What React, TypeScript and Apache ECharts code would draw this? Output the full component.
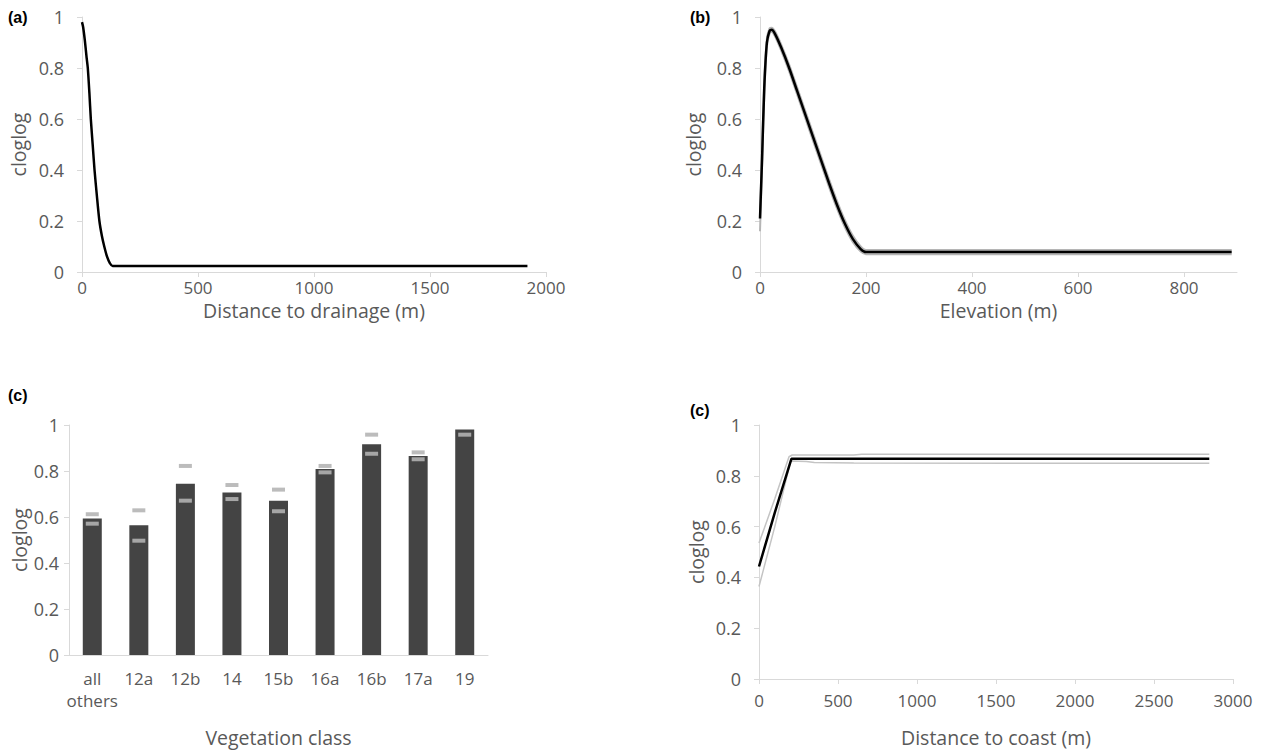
import React, { useEffect, useRef } from "react";
import * as echarts from "echarts";

// (a) Distance to drainage
const drainMean: [number, number][] = [
  [0, 0.98], [5, 0.96], [12, 0.91], [20, 0.84], [25, 0.8], [32, 0.7], [38, 0.6],
  [46, 0.5], [54, 0.4], [64, 0.3], [75, 0.2], [86, 0.14], [96, 0.1], [108, 0.06],
  [120, 0.035], [132, 0.024], [1920, 0.024],
];

// (b) Elevation
const elevMean: [number, number][] = [
  [0, 0.21], [4, 0.45], [8, 0.72], [13, 0.9], [18, 0.945], [22, 0.95], [28, 0.935],
  [40, 0.88], [55, 0.8], [70, 0.71], [85, 0.62], [100, 0.53], [115, 0.44], [130, 0.35],
  [145, 0.265], [160, 0.19], [175, 0.13], [190, 0.09], [200, 0.078], [890, 0.078],
];
const elevUpper: [number, number][] = [
  [0, 0.23], [4, 0.48], [8, 0.75], [13, 0.915], [18, 0.955], [22, 0.958], [28, 0.945],
  [40, 0.892], [55, 0.813], [70, 0.724], [85, 0.634], [100, 0.545], [115, 0.455], [130, 0.365],
  [145, 0.28], [160, 0.204], [175, 0.143], [190, 0.1], [200, 0.086], [890, 0.086],
];
const elevLower: [number, number][] = [
  [0, 0.16], [4, 0.42], [8, 0.69], [13, 0.885], [18, 0.935], [22, 0.942], [28, 0.925],
  [40, 0.868], [55, 0.787], [70, 0.696], [85, 0.606], [100, 0.515], [115, 0.425], [130, 0.335],
  [145, 0.25], [160, 0.176], [175, 0.118], [190, 0.08], [200, 0.07], [890, 0.07],
];

// (c) Vegetation class
const vegClasses = ["all\nothers", "12a", "12b", "14", "15b", "16a", "16b", "17a", "19"];
const vegMean = [0.594, 0.564, 0.745, 0.706, 0.671, 0.809, 0.916, 0.865, 0.98];
const vegUpper = [0.612, 0.629, 0.822, 0.739, 0.719, 0.822, 0.958, 0.881, null];
const vegLower = [0.571, 0.497, 0.671, 0.678, 0.625, 0.794, 0.875, 0.851, 0.958];

// (d) Distance to coast
const coastMean: [number, number][] = [[0, 0.443], [100, 0.655], [205, 0.867], [2850, 0.867]];
const coastUpper: [number, number][] = [
  [0, 0.535], [100, 0.71], [190, 0.875], [210, 0.882], [600, 0.882], [650, 0.885], [2850, 0.885],
];
const coastLower: [number, number][] = [
  [0, 0.364], [100, 0.6], [200, 0.858], [300, 0.856], [350, 0.852], [600, 0.85], [2850, 0.849],
];

const FONT = "'Open Sans', 'Noto Sans', sans-serif";
const AXIS_COLOR = "#d9d9d9";
const LABEL_COLOR = "#595959";
const TICK_FS = 17;
const NAME_FS = 19.5;
const plain = (v: number) => String(v);

function valueX(
  gridIndex: number,
  max: number,
  interval: number,
  name: string,
  labelMargin: number,
  nameGap: number,
  ticks?: number[]
) {
  const label: any = { color: LABEL_COLOR, fontSize: TICK_FS, fontFamily: FONT, margin: labelMargin, formatter: plain };
  const tick: any = { show: true, length: 5, lineStyle: { color: AXIS_COLOR } };
  if (ticks) {
    label.customValues = ticks;
    tick.customValues = ticks;
  }
  return {
    type: "value",
    gridIndex,
    min: 0,
    max,
    interval,
    name,
    nameLocation: "middle",
    nameGap,
    nameTextStyle: { color: LABEL_COLOR, fontSize: NAME_FS, fontFamily: FONT },
    axisLine: { show: true, lineStyle: { color: AXIS_COLOR, width: 1 } },
    axisTick: tick,
    axisLabel: label,
    splitLine: { show: false },
  };
}

function valueY(gridIndex: number, nameGap: number, labelMargin: number) {
  return {
    type: "value",
    gridIndex,
    min: 0,
    max: 1,
    interval: 0.2,
    name: "cloglog",
    nameLocation: "middle",
    nameRotate: 90,
    nameGap,
    nameTextStyle: { color: LABEL_COLOR, fontSize: NAME_FS, fontFamily: FONT },
    axisLine: { show: true, lineStyle: { color: AXIS_COLOR, width: 1 } },
    axisTick: { show: true, length: 5, lineStyle: { color: AXIS_COLOR } },
    axisLabel: { color: LABEL_COLOR, fontSize: 18, fontFamily: FONT, margin: labelMargin, formatter: plain },
    splitLine: { show: false },
  };
}

export default function App() {
  const ref = useRef<HTMLDivElement>(null);
  useEffect(() => {
    if (!ref.current) return;
    const chart = echarts.init(ref.current, undefined, { renderer: "svg" });
    const smoothLine = (xi: number, data: [number, number][], color: string, width: number) => ({
      type: "line",
      xAxisIndex: xi,
      yAxisIndex: xi,
      data,
      showSymbol: false,
      smooth: 0.25,
      lineStyle: { color, width },
    });
    const straightLine = (xi: number, data: [number, number][], color: string, width: number) => ({
      type: "line",
      xAxisIndex: xi,
      yAxisIndex: xi,
      data,
      showSymbol: false,
      lineStyle: { color, width },
    });
    const option: any = {
      animation: false,
      backgroundColor: "#ffffff",
      grid: [
        { left: 82, top: 17, width: 464, height: 255, outerBoundsMode: "none" },
        { left: 760, top: 17, width: 477, height: 255, outerBoundsMode: "none" },
        { left: 69, top: 425, width: 419, height: 230, outerBoundsMode: "none" },
        { left: 759, top: 425, width: 474, height: 254, outerBoundsMode: "none" },
      ],
      xAxis: [
        valueX(0, 2000, 500, "Distance to drainage (m)", 7, 28),
        valueX(1, 900, 200, "Elevation (m)", 7, 28, [0, 200, 400, 600, 800]),
        {
          type: "category",
          gridIndex: 2,
          data: vegClasses,
          name: "Vegetation class",
          nameLocation: "middle",
          nameGap: 72,
          nameTextStyle: { color: LABEL_COLOR, fontSize: NAME_FS, fontFamily: FONT },
          axisLine: { show: true, lineStyle: { color: AXIS_COLOR, width: 1 } },
          axisTick: { show: false },
          axisLabel: { color: LABEL_COLOR, fontSize: TICK_FS, fontFamily: FONT, margin: 12, lineHeight: 22, interval: 0 },
        },
        valueX(3, 3000, 500, "Distance to coast (m)", 13, 48),
      ],
      yAxis: [valueY(0, 54, 18), valueY(1, 57, 18), valueY(2, 39, 10), valueY(3, 53, 18)],
      series: [
        smoothLine(0, drainMean, "#000", 2.5),
        smoothLine(1, elevUpper, "#b5b5b5", 2),
        smoothLine(1, elevLower, "#b5b5b5", 2),
        smoothLine(1, elevMean, "#000", 2.5),
        {
          type: "bar",
          xAxisIndex: 2,
          yAxisIndex: 2,
          data: vegMean,
          barWidth: 19,
          itemStyle: { color: "#444444" },
        },
        {
          type: "scatter",
          xAxisIndex: 2,
          yAxisIndex: 2,
          data: vegUpper,
          symbol: "rect",
          symbolSize: [13, 4],
          itemStyle: { color: "#ababab" },
          z: 5,
        },
        {
          type: "scatter",
          xAxisIndex: 2,
          yAxisIndex: 2,
          data: vegLower,
          symbol: "rect",
          symbolSize: [13, 4],
          itemStyle: { color: "#bfbfbf" },
          z: 5,
        },
        straightLine(3, coastUpper, "#c4c4c4", 1.5),
        straightLine(3, coastLower, "#c4c4c4", 1.5),
        straightLine(3, coastMean, "#000", 2.5),
      ],
      graphic: [
        { type: "text", left: 8, top: 9, style: { text: "(a)", fontSize: 16, fontWeight: "bold", fontFamily: "'Liberation Sans', Arial, sans-serif", fill: "#000" } },
        { type: "text", left: 690, top: 9, style: { text: "(b)", fontSize: 16, fontWeight: "bold", fontFamily: "'Liberation Sans', Arial, sans-serif", fill: "#000" } },
        { type: "text", left: 8, top: 387, style: { text: "(c)", fontSize: 16, fontWeight: "bold", fontFamily: "'Liberation Sans', Arial, sans-serif", fill: "#000" } },
        { type: "text", left: 690, top: 402, style: { text: "(c)", fontSize: 16, fontWeight: "bold", fontFamily: "'Liberation Sans', Arial, sans-serif", fill: "#000" } },
      ],
    };
    chart.setOption(option);
    return () => chart.dispose();
  }, []);
  return (
    <div
      ref={ref}
      style={{ position: "absolute", left: 0, top: 0, width: 1266, height: 751, background: "#fff" }}
    />
  );
}
